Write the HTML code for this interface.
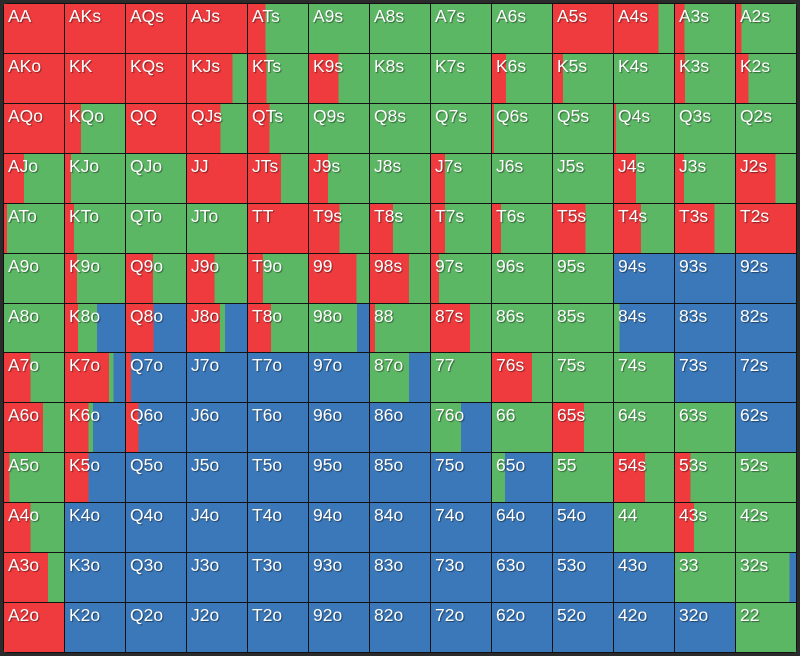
<!DOCTYPE html>
<html><head><meta charset="utf-8"><style>
:root{--r:#ef3b3e;--g:#5cb764;--b:#3b78b9;}
html,body{margin:0;padding:0;background:#2b2b2b;width:800px;height:656px;overflow:hidden;}
#grid{position:absolute;left:3px;top:3px;width:794px;height:650px;box-sizing:border-box;padding:1px;background:#121212;border-radius:5px;display:grid;grid-template-columns:repeat(13,1fr);grid-template-rows:repeat(13,1fr);gap:1px;}
#grid div{font-family:"Liberation Sans",sans-serif;font-size:17.5px;line-height:1;color:#fff;padding:4px 0 0 4px;box-sizing:border-box;text-shadow:1px 1px 1px rgba(0,0,0,0.45);white-space:nowrap;overflow:hidden;}
.R{background:var(--r);}.G{background:var(--g);}.B{background:var(--b);}
</style></head><body><div id="grid">
<div class="R">AA</div><div class="R">AKs</div><div class="R">AQs</div><div class="R">AJs</div><div style="background:linear-gradient(90deg,var(--r) 29%,var(--g) 0)">ATs</div><div class="G">A9s</div><div class="G">A8s</div><div class="G">A7s</div><div class="G">A6s</div><div class="R">A5s</div><div style="background:linear-gradient(90deg,var(--r) 74%,var(--g) 0)">A4s</div><div style="background:linear-gradient(90deg,var(--r) 16%,var(--g) 0)">A3s</div><div style="background:linear-gradient(90deg,var(--r) 9%,var(--g) 0)">A2s</div>
<div class="R">AKo</div><div class="R">KK</div><div class="R">KQs</div><div style="background:linear-gradient(90deg,var(--r) 76%,var(--g) 0)">KJs</div><div style="background:linear-gradient(90deg,var(--r) 31%,var(--g) 0)">KTs</div><div style="background:linear-gradient(90deg,var(--r) 49%,var(--g) 0)">K9s</div><div class="G">K8s</div><div class="G">K7s</div><div style="background:linear-gradient(90deg,var(--r) 23%,var(--g) 0)">K6s</div><div style="background:linear-gradient(90deg,var(--r) 17%,var(--g) 0)">K5s</div><div class="G">K4s</div><div style="background:linear-gradient(90deg,var(--r) 17%,var(--g) 0)">K3s</div><div style="background:linear-gradient(90deg,var(--r) 21%,var(--g) 0)">K2s</div>
<div class="R">AQo</div><div style="background:linear-gradient(90deg,var(--r) 27%,var(--g) 0)">KQo</div><div class="R">QQ</div><div style="background:linear-gradient(90deg,var(--r) 56%,var(--g) 0)">QJs</div><div style="background:linear-gradient(90deg,var(--r) 36%,var(--g) 0)">QTs</div><div class="G">Q9s</div><div class="G">Q8s</div><div class="G">Q7s</div><div style="background:linear-gradient(90deg,var(--r) 3%,var(--g) 0)">Q6s</div><div class="G">Q5s</div><div style="background:linear-gradient(90deg,var(--r) 3%,var(--g) 0)">Q4s</div><div class="G">Q3s</div><div class="G">Q2s</div>
<div style="background:linear-gradient(90deg,var(--r) 33%,var(--g) 0)">AJo</div><div style="background:linear-gradient(90deg,var(--r) 10%,var(--g) 0)">KJo</div><div class="G">QJo</div><div class="R">JJ</div><div style="background:linear-gradient(90deg,var(--r) 55%,var(--g) 0)">JTs</div><div style="background:linear-gradient(90deg,var(--r) 32%,var(--g) 0)">J9s</div><div class="G">J8s</div><div style="background:linear-gradient(90deg,var(--r) 23%,var(--g) 0)">J7s</div><div class="G">J6s</div><div class="G">J5s</div><div style="background:linear-gradient(90deg,var(--r) 37%,var(--g) 0)">J4s</div><div style="background:linear-gradient(90deg,var(--r) 15%,var(--g) 0)">J3s</div><div style="background:linear-gradient(90deg,var(--r) 66%,var(--g) 0)">J2s</div>
<div style="background:linear-gradient(90deg,var(--r) 5%,var(--g) 0)">ATo</div><div style="background:linear-gradient(90deg,var(--r) 15%,var(--g) 0)">KTo</div><div class="G">QTo</div><div class="G">JTo</div><div class="R">TT</div><div style="background:linear-gradient(90deg,var(--r) 51%,var(--g) 0)">T9s</div><div style="background:linear-gradient(90deg,var(--r) 38%,var(--g) 0)">T8s</div><div style="background:linear-gradient(90deg,var(--r) 23%,var(--g) 0)">T7s</div><div style="background:linear-gradient(90deg,var(--r) 15%,var(--g) 0)">T6s</div><div style="background:linear-gradient(90deg,var(--r) 54%,var(--g) 0)">T5s</div><div style="background:linear-gradient(90deg,var(--r) 45%,var(--g) 0)">T4s</div><div style="background:linear-gradient(90deg,var(--r) 66%,var(--g) 0)">T3s</div><div class="R">T2s</div>
<div class="G">A9o</div><div style="background:linear-gradient(90deg,var(--r) 20%,var(--g) 0)">K9o</div><div style="background:linear-gradient(90deg,var(--r) 45%,var(--g) 0)">Q9o</div><div style="background:linear-gradient(90deg,var(--r) 46%,var(--g) 0)">J9o</div><div style="background:linear-gradient(90deg,var(--r) 25%,var(--g) 0)">T9o</div><div style="background:linear-gradient(90deg,var(--r) 79%,var(--g) 0)">99</div><div style="background:linear-gradient(90deg,var(--r) 65%,var(--g) 0)">98s</div><div style="background:linear-gradient(90deg,var(--r) 13%,var(--g) 0)">97s</div><div class="G">96s</div><div class="G">95s</div><div class="B">94s</div><div class="B">93s</div><div class="B">92s</div>
<div class="G">A8o</div><div style="background:linear-gradient(90deg,var(--r) 22%,var(--g) 0 53%,var(--b) 0)">K8o</div><div style="background:linear-gradient(90deg,var(--r) 46%,var(--b) 0)">Q8o</div><div style="background:linear-gradient(90deg,var(--r) 55%,var(--g) 0 63%,var(--b) 0)">J8o</div><div style="background:linear-gradient(90deg,var(--r) 38%,var(--g) 0)">T8o</div><div style="background:linear-gradient(90deg,var(--g) 80%,var(--b) 0)">98o</div><div style="background:linear-gradient(90deg,var(--r) 8%,var(--g) 0)">88</div><div style="background:linear-gradient(90deg,var(--r) 65%,var(--g) 0)">87s</div><div class="G">86s</div><div class="G">85s</div><div style="background:linear-gradient(90deg,var(--g) 9%,var(--b) 0)">84s</div><div class="B">83s</div><div class="B">82s</div>
<div style="background:linear-gradient(90deg,var(--r) 44%,var(--g) 0)">A7o</div><div style="background:linear-gradient(90deg,var(--r) 73%,var(--g) 0 81%,var(--b) 0)">K7o</div><div style="background:linear-gradient(90deg,var(--r) 8%,var(--b) 0)">Q7o</div><div class="B">J7o</div><div class="B">T7o</div><div class="B">97o</div><div style="background:linear-gradient(90deg,var(--g) 65%,var(--b) 0)">87o</div><div class="G">77</div><div style="background:linear-gradient(90deg,var(--r) 67%,var(--g) 0)">76s</div><div class="G">75s</div><div class="G">74s</div><div class="B">73s</div><div class="B">72s</div>
<div style="background:linear-gradient(90deg,var(--r) 65%,var(--g) 0)">A6o</div><div style="background:linear-gradient(90deg,var(--r) 39%,var(--g) 0 47%,var(--b) 0)">K6o</div><div style="background:linear-gradient(90deg,var(--r) 21%,var(--b) 0)">Q6o</div><div class="B">J6o</div><div class="B">T6o</div><div class="B">96o</div><div class="B">86o</div><div style="background:linear-gradient(90deg,var(--g) 50%,var(--b) 0)">76o</div><div class="G">66</div><div style="background:linear-gradient(90deg,var(--r) 52%,var(--g) 0)">65s</div><div class="G">64s</div><div class="G">63s</div><div class="B">62s</div>
<div style="background:linear-gradient(90deg,var(--r) 9%,var(--g) 0)">A5o</div><div style="background:linear-gradient(90deg,var(--r) 39%,var(--b) 0)">K5o</div><div class="B">Q5o</div><div class="B">J5o</div><div class="B">T5o</div><div class="B">95o</div><div class="B">85o</div><div class="B">75o</div><div style="background:linear-gradient(90deg,var(--g) 22%,var(--b) 0)">65o</div><div class="G">55</div><div style="background:linear-gradient(90deg,var(--r) 52%,var(--g) 0)">54s</div><div style="background:linear-gradient(90deg,var(--r) 26%,var(--g) 0)">53s</div><div class="G">52s</div>
<div style="background:linear-gradient(90deg,var(--r) 44%,var(--g) 0)">A4o</div><div class="B">K4o</div><div class="B">Q4o</div><div class="B">J4o</div><div class="B">T4o</div><div class="B">94o</div><div class="B">84o</div><div class="B">74o</div><div class="B">64o</div><div class="B">54o</div><div class="G">44</div><div style="background:linear-gradient(90deg,var(--r) 32%,var(--g) 0)">43s</div><div class="G">42s</div>
<div style="background:linear-gradient(90deg,var(--r) 73%,var(--g) 0)">A3o</div><div class="B">K3o</div><div class="B">Q3o</div><div class="B">J3o</div><div class="B">T3o</div><div class="B">93o</div><div class="B">83o</div><div class="B">73o</div><div class="B">63o</div><div class="B">53o</div><div class="B">43o</div><div class="G">33</div><div style="background:linear-gradient(90deg,var(--g) 89%,var(--b) 0)">32s</div>
<div class="R">A2o</div><div class="B">K2o</div><div class="B">Q2o</div><div class="B">J2o</div><div class="B">T2o</div><div class="B">92o</div><div class="B">82o</div><div class="B">72o</div><div class="B">62o</div><div class="B">52o</div><div class="B">42o</div><div class="B">32o</div><div class="G">22</div>
</div></body></html>
